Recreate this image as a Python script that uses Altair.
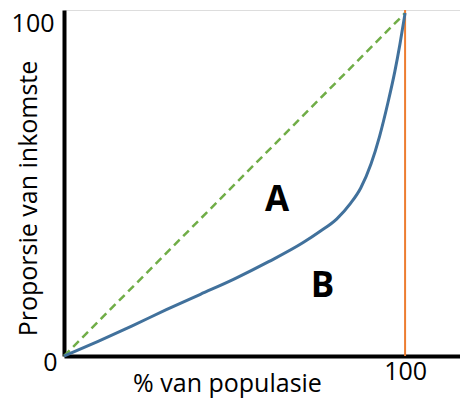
import altair as alt
import pandas as pd

# Lorenz curve
pop_pct = [0, 10, 20, 30, 40, 50, 60, 70, 75, 80, 84, 87, 90, 92.5, 95, 97, 98.5, 100]
inc_pct = [0, 4.3, 8.8, 13.5, 18, 22.5, 27.5, 33, 36.3, 40, 44.5, 49, 56, 64, 74, 83, 91, 100]

# line of equality
eq_x = [0, 100]
eq_y = [0, 100]

# vertical line at 100 %
vline_x = [100]
vline_y0 = [0]
vline_y1 = [100.9]

# area labels
area_labels = ["A", "B"]
area_x = [62.5, 75.8]
area_y = [45.5, 20.5]

FONT = "Open Sans"
X_MAX = 116.1
Y_MAX = 100.9

xs = alt.Scale(domain=[0, X_MAX], nice=False, zero=False)
ys = alt.Scale(domain=[0, Y_MAX], nice=False, zero=False)

x_axis = alt.Axis(
    values=[100], title="% van populasie", grid=False, ticks=False,
    domainColor="black", domainWidth=4, labelFontSize=25, labelFont=FONT,
    labelColor="black", labelPadding=3, labelFlush=False,
    titleFont=FONT, titleFontSize=25, titleFontWeight="normal", titleColor="black",
    titleX=163, titleY=35, titleBaseline="alphabetic", titleAlign="center",
)
y_axis = alt.Axis(
    values=[0, 100], title="Proporsie van inkomste", grid=False, ticks=False,
    domainColor="black", domainWidth=4, labelFontSize=25, labelFont=FONT,
    labelColor="black",
    labelPadding={"condition": {"test": "datum.value == 100", "value": 10}, "value": 7},
    labelOffset={"condition": {"test": "datum.value == 100", "value": 10}, "value": 6},
    labelFlush=False,
    titleFont=FONT, titleFontSize=25, titleFontWeight="normal", titleColor="black",
    titleX=-36, titleY=188, titleBaseline="middle", titleAlign="center", titleAngle=270,
)

eq_df = pd.DataFrame({"x": eq_x, "y": eq_y})
curve_df = pd.DataFrame({"x": pop_pct, "y": inc_pct})
vl_df = pd.DataFrame({"x": vline_x, "y": vline_y0, "y2": vline_y1})
lab_df = pd.DataFrame({"x": area_x, "y": area_y, "t": area_labels})

diag = alt.Chart(eq_df).mark_line(color="#70AD47", strokeWidth=2.5, strokeDash=[8, 5]).encode(
    x=alt.X("x:Q", scale=xs, axis=x_axis),
    y=alt.Y("y:Q", scale=ys, axis=y_axis),
)
vline = alt.Chart(vl_df).mark_rule(color="#ED7D31", strokeWidth=2).encode(
    x=alt.X("x:Q", scale=xs), y=alt.Y("y:Q", scale=ys), y2="y2:Q"
)
curve = alt.Chart(curve_df).mark_line(color="#41719C", strokeWidth=3, interpolate="monotone").encode(
    x=alt.X("x:Q", scale=xs), y=alt.Y("y:Q", scale=ys)
)
labels = alt.Chart(lab_df).mark_text(font=FONT, fontSize=35, fontWeight="bold", color="black",
                                     baseline="middle", align="center").encode(
    x=alt.X("x:Q", scale=xs), y=alt.Y("y:Q", scale=ys), text="t:N"
)

chart = alt.layer(diag, vline, curve, labels).properties(
    width=396, height=346,
    autosize=alt.AutoSizeParams(type="none"),
    padding={"left": 56, "top": 2, "right": 0, "bottom": 43},
).configure_view(stroke=None).configure(background="white")

chart.save("out.html", embed_options={"renderer": "svg", "actions": False})
